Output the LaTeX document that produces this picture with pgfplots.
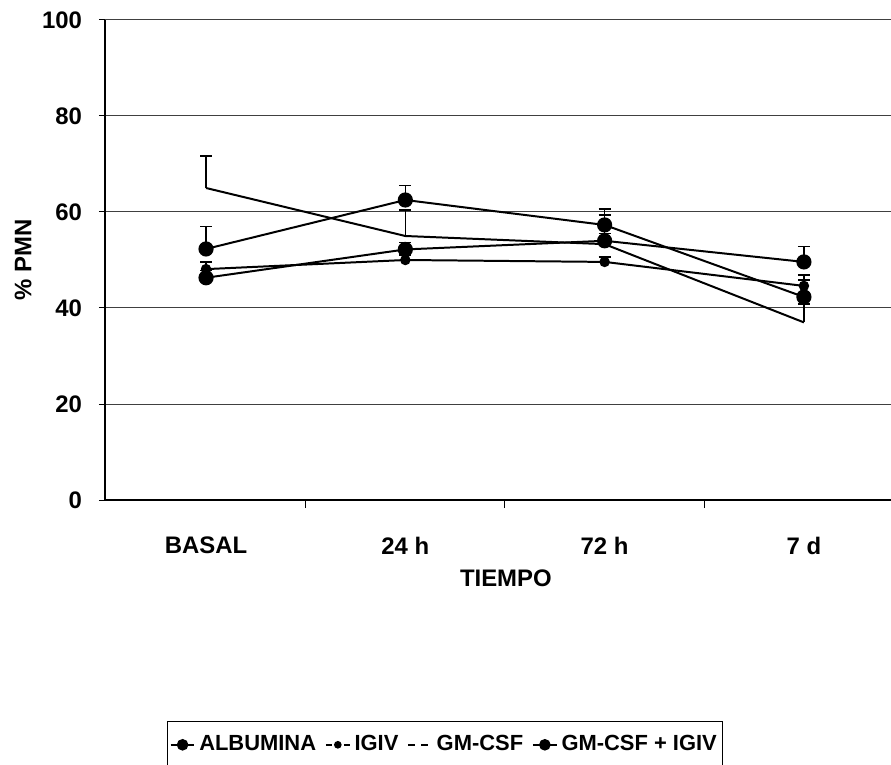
\documentclass[border=0pt]{standalone}
\usepackage{pgfplots}
\pgfplotsset{compat=1.18}
\usepackage{fontspec}
\setmainfont{Liberation Sans}
\begin{document}
\begin{tikzpicture}
\path[use as bounding box] (0,0) rectangle (445.5bp,382.5bp);
\begin{axis}[
  at={(52.5bp,132.5bp)}, anchor=south west,
  width=393bp, height=240bp, scale only axis,
  xmin=-0.507, xmax=3.437, ymin=0, ymax=100,
  axis x line=bottom, axis y line=left,
  axis line style={-, line width=0.7pt},
  ytick={0,20,40,60,80,100},
  ymajorgrids, grid style={black!75, line width=0.5pt},
  xtick={0,1,2,3}, xticklabels={BASAL,24 h,72 h,7 d},
  major x tick style={draw=none},
  minor xtick={0.5,1.5,2.5},
  minor tick length=4bp, major tick length=3bp,
  tick align=outside,
  tick style={black, line width=0.5pt},
  /pgf/number format/assume math mode=true,
  ticklabel style={font=\bfseries\fontsize{12}{14}\selectfont},
  yticklabel style={xshift=-5bp},
  xticklabel style={yshift=-12bp},
  xlabel={\bfseries TIEMPO}, ylabel={\bfseries \% PMN},
  label style={font=\bfseries\fontsize{12}{14}\selectfont},
  xlabel style={at={(axis description cs:0.51,0)}, anchor=center, yshift=-39bp},
  ylabel style={at={(axis description cs:-0.104,0.5)}, anchor=center},
  clip=false,
  error bars/y dir=plus, error bars/y explicit,
  error bars/error mark options={rotate=90, mark size=3bp, line width=0.7pt},
  error bars/error bar style={line width=0.7pt},
  legend columns=4,
  legend style={at={(axis description cs:0.433,-0.51)}, anchor=center,
    draw=black, line width=0.6pt, font=\bfseries\fontsize{11}{13}\selectfont,
    inner ysep=5bp, inner xsep=1bp,
    /tikz/every odd column/.append style={column sep=0bp},
    /tikz/every even column/.append style={column sep=2.5bp}},
]
% ALBUMINA
\addplot[black, line width=1pt, mark=*, mark size=3.3bp, forget plot] coordinates {
 (0,52.3) +- (0,4.7)
 (1,62.5) +- (0,3.0)
 (2,57.3) +- (0,2.1)
 (3,42.3) +- (0,4.6)
};
% IGIV
\addplot[black, line width=1pt, mark=*, mark size=2.1bp, forget plot] coordinates {
 (0,48.1) +- (0,1.5)
 (1,50.0) +- (0,1.0)
 (2,49.6) +- (0,1.0)
 (3,44.6) +- (0,1.2)
};
% GM-CSF
\addplot[black, line width=1pt, forget plot] coordinates {
 (0,65.0) +- (0,6.7)
 (1,55.0) +- (0,5.4)
 (2,53.3) +- (0,7.3)
 (3,37.0) +- (0,3.8)
};
% GM-CSF + IGIV
\addplot[black, line width=1pt, mark=*, mark size=3.3bp, forget plot] coordinates {
 (0,46.3) +- (0,1.5)
 (1,52.2) +- (0,1.5)
 (2,54.0) +- (0,1.5)
 (3,49.6) +- (0,3.2)
};
\addlegendimage{legend image code/.code={\draw[black, line width=0.8pt] (0cm,0cm) -- (0.42cm,0cm); \fill[black] (0.21cm,0cm) circle (2.6bp);}}
\addlegendentry{ALBUMINA}
\addlegendimage{legend image code/.code={\draw[black, line width=0.8pt, dash pattern=on 3bp off 1.5bp] (0cm,0cm) -- (0.42cm,0cm); \fill[black] (0.21cm,0cm) circle (1.6bp);}}
\addlegendentry{IGIV}
\addlegendimage{legend image code/.code={\draw[black, line width=0.8pt, dash pattern=on 3.5bp off 3bp] (0cm,0cm) -- (0.42cm,0cm);}}
\addlegendentry{GM-CSF}
\addlegendimage{legend image code/.code={\draw[black, line width=0.8pt] (0cm,0cm) -- (0.42cm,0cm); \fill[black] (0.21cm,0cm) circle (2.6bp);}}
\addlegendentry{GM-CSF + IGIV}
\end{axis}
\end{tikzpicture}
\end{document}
